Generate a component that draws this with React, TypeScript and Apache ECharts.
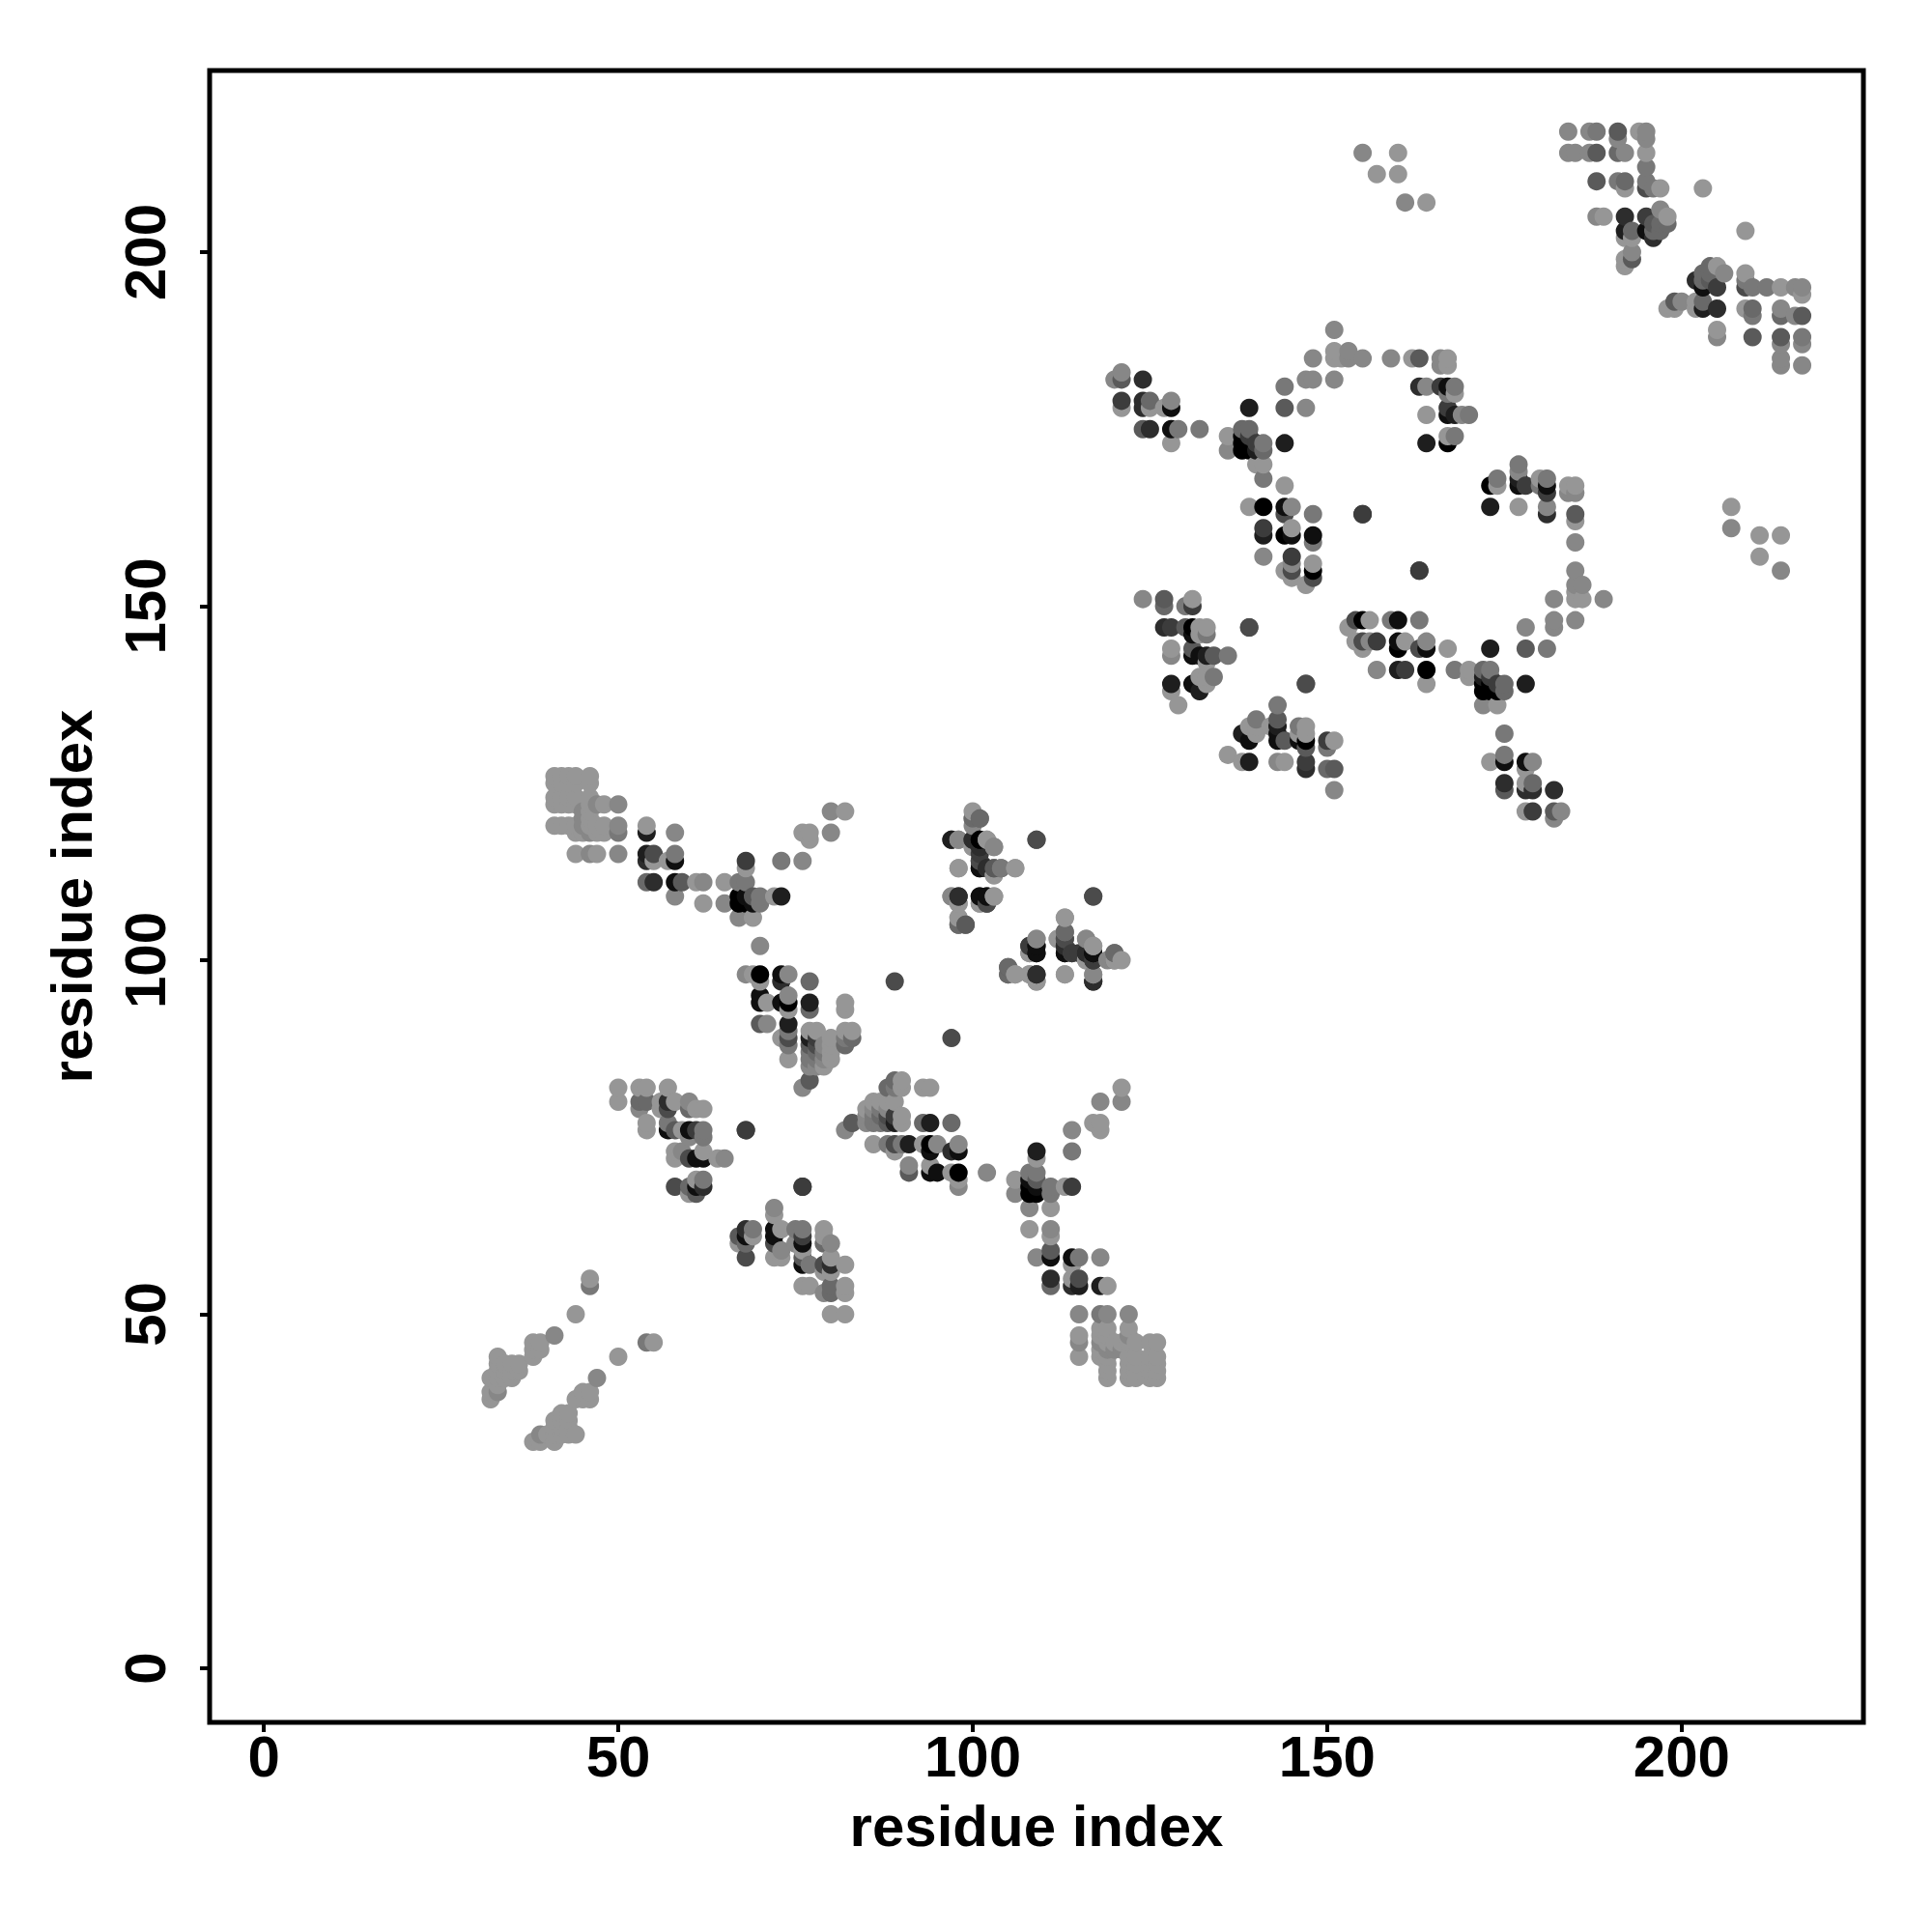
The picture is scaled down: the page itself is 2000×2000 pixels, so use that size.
import React, { useEffect, useRef } from "react";
import * as echarts from "echarts";

// each contact: [residue i, residue j, shade score 0 (strongest) .. 10 (weakest)]
type C = [number, number, number];

const AXIS_TICKS = [0, 50, 100, 150, 200];
const AXIS_TITLE = "residue index";

const strip: C[] = [
  [32,38,10],[32,39,10],[32,41,10],[33,39,9],[33,40,10],[33,41,10],[33,42,10],[33,43,10],[33,44,10],[34,41,10],[34,42,10],[34,43,10],
  [35,41,10],[35,42,10],[35,43,10],[36,42,10],[36,43,10],[38,44,10],[38,45,10],[38,46,10],[39,45,10],[39,46,10],[41,47,9],[44,50,10],[46,54,8],[46,55,10],
];
const armA: C[] = [
  [41,126,10],[42,126,10],[43,126,10],[44,126,10],[46,126,10],[41,125,10],[42,125,10],[43,125,10],[44,125,10],[46,125,10],
  [41,123,10],[42,123,10],[43,123,10],[44,123,10],[46,123,10],[41,122,10],[42,122,10],[43,122,10],[44,122,10],[46,122,10],[47,122,9],[48,122,10],[50,122,9],
  [45,121,9],[46,121,10],[45,120,9],[46,120,10],
  [41,119,10],[42,119,10],[43,119,10],[44,119,10],[45,119,9],[46,119,10],[47,119,10],[48,119,10],[50,119,9],
  [44,118,10],[45,118,10],[46,118,9],[47,118,10],[48,118,10],[50,118,8],
  [44,115,10],[46,115,9],[47,115,10],[50,115,9],
  [54,119,10],[54,118,2],[58,118,9],
  [54,115,2],[54,114,3],[55,115,5],[55,114,10],[57,114,10],[58,115,8],[58,114,1],
  [54,111,7],[55,111,3],[58,111,1],[59,111,6],[61,111,10],[62,111,9],[58,109,9],[62,108,10],[65,111,10],[65,108,9],
  [67,111,8],[68,111,8],[68,113,10],[68,114,4],
  [67,109,0],[67,108,0],[68,109,1],[68,108,0],[69,109,6],[70,109,8],[69,108,1],[70,108,8],[72,109,10],[73,109,2],[73,114,8],
  [67,106,9],[69,106,10],[76,114,9],[76,118,10],[77,118,10],[77,117,10],[80,118,9],[80,121,9],[82,121,10],
];
const blockB: C[] = [
  [97,117,3],[98,117,9],[100,117,4],[101,117,1],[102,117,10],[103,116,9],[100,120,10],[101,120,7],[100,119,9],[100,116,10],[101,116,3],
  [101,115,4],[101,114,4],[101,113,1],[102,113,3],[103,113,5],[104,113,7],[106,113,10],[98,113,10],[103,112,10],
  [97,109,10],[98,109,3],[101,109,1],[102,109,1],[103,109,9],[102,108,4],[101,108,10],[98,108,10],[98,106,10],[98,105,7],[99,105,7],
  [109,117,5],[117,109,5],[105,99,6],[105,98,7],[106,98,10],
  [108,98,10],[109,98,3],[109,97,9],[113,98,10],[117,98,9],[117,97,2],
  [109,103,10],[108,102,5],[109,102,1],[109,101,1],[108,101,10],
  [113,106,10],[113,104,8],[112,103,10],[113,103,6],[113,102,3],[113,101,1],[114,101,5],[116,103,9],[117,102,10],[116,101,3],[117,101,0],[117,100,3],[116,100,10],
  [120,101,7],[120,100,7],[121,100,10],
];
const blockC: C[] = [
  [70,102,9],[68,98,9],[69,98,10],[70,98,0],[70,97,10],[73,98,1],[74,98,9],[73,97,3],[77,97,7],[89,97,5],
  [70,95,1],[70,94,1],[71,94,10],[73,94,1],[74,95,9],[74,94,0],[74,93,10],[77,94,2],[77,93,7],[82,94,10],[82,93,10],
  [70,91,6],[71,91,9],[74,91,2],[73,89,10],[74,90,8],[74,89,5],[74,88,8],[74,86,10],
  [77,90,10],[78,90,10],[77,89,2],[78,89,4],[77,88,6],[78,88,5],[77,87,8],[78,87,7],[77,86,8],[78,86,8],[77,85,9],[78,85,9],
  [79,88,9],[79,87,8],[79,86,9],[79,85,10],[80,89,10],[80,88,10],[80,87,10],[80,86,10],
  [82,90,10],[83,90,10],[82,89,8],[83,89,7],[82,88,7],[77,83,6],[76,82,9],
];
const blockD: C[] = [
  [50,82,10],[50,80,10],[53,82,10],[54,82,10],[53,80,7],[54,80,7],[53,79,9],[57,82,10],[56,80,10],[57,80,3],[58,80,10],[56,79,10],[57,79,5],
  [60,80,9],[60,79,7],[61,79,10],[62,79,10],[54,77,10],[54,76,10],[57,77,8],[57,76,1],[58,76,6],[59,76,10],[60,76,1],[61,76,4],[62,76,8],[62,75,8],[60,75,9],[68,76,4],
  [58,73,10],[58,72,10],[59,73,9],[60,72,5],[61,72,1],[62,72,1],[62,73,10],[64,72,10],[65,72,9],
  [58,68,5],[60,68,7],[61,68,1],[62,68,3],[61,69,10],[62,69,8],[60,67,10],[61,67,6],[76,68,4],
];
const armE: C[] = [
  [120,182,9],[121,183,9],[121,182,6],[124,182,3],[121,179,4],[121,178,10],[124,179,3],[124,178,3],[125,179,7],[125,178,10],[127,178,10],[128,179,9],[128,178,1],
  [124,175,6],[125,175,3],[128,175,1],[129,175,8],[128,173,10],[132,175,8],
];
const ringF: C[] = [
  [139,178,2],[144,181,8],[144,178,6],[147,178,9],[147,182,9],[148,182,9],[151,182,9],[148,185,9],[151,185,10],[152,185,10],[153,185,9],[155,185,9],[159,185,9],[151,186,10],[153,186,9],[151,189,9],
  [162,185,10],[163,185,6],[166,185,9],[167,185,10],[166,184,9],[167,184,10],
  [163,181,3],[164,181,9],[166,181,4],[167,181,1],[168,181,8],[168,180,10],[167,180,8],
  [164,177,10],[167,178,4],[167,177,1],[168,177,2],[169,177,9],[170,177,8],[164,173,2],[167,173,0],[167,174,10],[168,174,8],
];
const blockG: C[] = [
  [136,174,10],[136,172,9],[138,175,7],[139,175,7],[138,174,0],[138,173,0],[138,172,0],[139,174,4],[139,173,0],[139,172,0],[140,173,4],[141,173,8],[140,172,2],[141,172,7],[144,173,2],
  [140,170,10],[141,170,10],[141,168,8],[144,167,10],
  [139,164,10],[141,164,0],[144,164,1],[145,164,9],[144,163,5],[148,163,8],[155,163,4],
  [141,161,4],[141,160,2],[144,160,0],[145,161,10],[145,160,1],[148,160,1],[148,159,8],[141,157,9],[145,157,4],[145,156,9],[144,155,10],[145,155,5],[145,154,10],[148,156,10],[148,155,0],[148,154,5],[147,153,10],[163,155,4],
];
const blockH: C[] = [
  [124,151,9],[127,151,6],[127,150,7],[130,150,8],[131,151,10],[131,150,4],
  [127,147,3],[128,147,4],[130,147,6],[131,147,0],[132,147,10],[133,147,10],[131,146,1],[132,146,10],[133,146,8],[139,147,5],
  [128,144,10],[128,143,9],[131,144,6],[131,143,1],[132,143,1],[133,143,2],[134,143,6],[136,143,8],[133,142,10],
  [128,139,2],[128,138,10],[129,136,10],[131,139,1],[132,138,2],[132,140,10],[133,139,10],[134,140,8],[133,140,10],[147,139,5],
];
const domainEnd: C[] = [
  [184,217,9],[187,217,9],[188,217,8],[191,217,6],[191,216,9],[194,217,10],[195,217,9],[195,216,9],
  [184,214,9],[185,214,9],[187,214,9],[188,214,6],[191,214,7],[192,214,9],[195,214,10],[195,212,8],
  [188,210,6],[191,210,8],[192,210,7],[192,209,10],[195,210,8],[195,209,5],[196,209,8],[197,209,10],[203,209,10],
  [188,205,9],[189,205,10],[192,205,3],[195,205,4],[197,206,9],[198,205,10],
  [196,204,6],[197,204,7],[198,204,7],[192,203,2],[193,203,7],[195,203,1],[196,203,7],[197,203,7],[196,202,3],
  [192,202,10],[193,202,10],[193,200,9],[193,199,6],[192,199,10],[192,198,10],
  [155,214,9],[157,211,10],[160,214,10],[160,211,10],[161,207,9],[164,207,10],
];

const halfMap: C[] = [...strip, ...armA, ...blockB, ...blockC, ...blockD, ...armE, ...ringF, ...blockG, ...blockH, ...domainEnd];

export default function App() {
  const ref = useRef<HTMLDivElement>(null);
  useEffect(() => {
    const chart = echarts.init(ref.current!, undefined, { renderer: "svg" });
    // a contact map is symmetric; points are plotted in residue order
    const all = [...halfMap, ...halfMap.map(([i, j, s]) => [j, i, s] as C)];
    all.sort((a, b) => a[0] - b[0] || a[1] - b[1]);
    const font = { fontFamily: "Liberation Sans", fontWeight: "bold" as const, fontSize: 60, color: "#000" };
    const base = {
      type: "value" as const,
      min: -7.64,
      max: 225.64,
      name: AXIS_TITLE,
      nameLocation: "middle" as const,
      nameTextStyle: font,
      splitLine: { show: false },
      axisLine: { show: false, onZero: false },
      axisTick: { show: true, customValues: AXIS_TICKS, length: 10, lineStyle: { color: "#000", width: 4 } },
    };
    chart.setOption({
      animation: false,
      backgroundColor: "#fff",
      grid: { left: 217, top: 73, width: 1712, height: 1710, show: true, borderColor: "#000", borderWidth: 5, backgroundColor: "transparent" },
      xAxis: { ...base, nameGap: 77, axisLabel: { ...font, customValues: AXIS_TICKS, margin: 5 } },
      yAxis: { ...base, nameGap: 113, axisLabel: { ...font, customValues: AXIS_TICKS, rotate: 90, margin: 37 } },
      series: [{
        type: "scatter",
        symbol: "circle",
        symbolSize: 19,
        data: all,
        itemStyle: {
          opacity: 1,
          color: (p: any) => {
            const g = Math.round(p.value[2] * 15);
            return `rgb(${g},${g},${g})`;
          },
        },
      }],
    });
    return () => chart.dispose();
  }, []);
  return <div ref={ref} style={{ position: "absolute", left: 0, top: 0, width: 2000, height: 2000 }} />;
}
